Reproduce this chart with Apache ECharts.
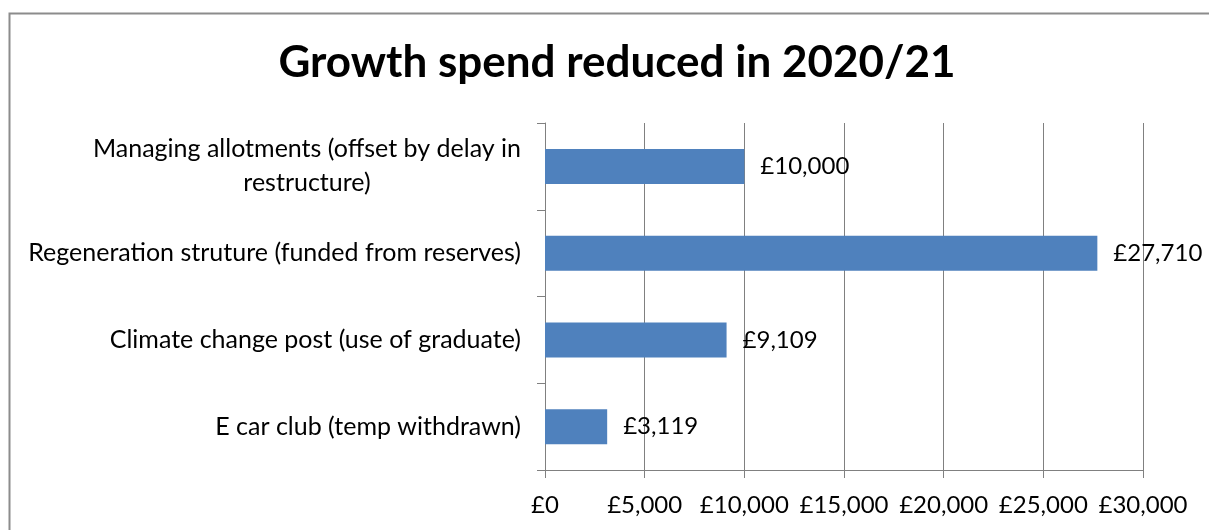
<!DOCTYPE html>
<html>
<head>
<meta charset="utf-8">
<title>Growth spend reduced in 2020/21</title>
<script src="https://cdn.jsdelivr.net/npm/echarts@6/dist/echarts.min.js"></script>
<style>
  html, body { margin: 0; padding: 0; background: #fff; }
  #chart { width: 1209px; height: 530px; }
</style>
</head>
<body>
<div id="chart"></div>
<script>
// Budget lines, listed bottom to top as the category axis draws them
const categories = [
  'E car club (temp withdrawn)',
  'Climate change post (use of graduate)',
  'Regeneration struture (funded from reserves)',
  'Managing allotments (offset by delay in restructure)'
];
const reductions = [3119, 9109, 27710, 10000];
const axisTicks = [0, 5000, 10000, 15000, 20000, 25000, 30000];

const FONT = 'Lato, "DejaVu Sans", sans-serif';
const CAT_SIZE = 25;
const NUM_SIZE = 24;
const GRID_COLOR = '#808080';

// Pound format with thousands separators
const pounds = v => '£' + Math.round(v).toLocaleString('en-GB');

// Word-wrap a category name to a pixel width, measured with the label font
const measureCtx = document.createElement('canvas').getContext('2d');
measureCtx.font = CAT_SIZE + 'px ' + FONT;
function wrapText(text, maxWidth) {
  const words = text.split(' ');
  const lines = [];
  let line = '';
  words.forEach(w => {
    const trial = line ? line + ' ' + w : w;
    if (line && measureCtx.measureText(trial).width > maxWidth) {
      lines.push(line);
      line = w;
    } else {
      line = trial;
    }
  });
  if (line) lines.push(line);
  return lines;
}

const chart = echarts.init(document.getElementById('chart'), null, { renderer: 'canvas' });

chart.setOption({
  backgroundColor: '#ffffff',
  animation: false,
  graphic: [{
    type: 'rect',
    left: 7, top: 11,
    shape: { width: 1400, height: 700 },
    style: { fill: 'none', stroke: '#8c8c8c', lineWidth: 2 },
    silent: true,
    z: -1
  }],
  title: {
    text: 'Growth spend reduced in 2020/21',
    left: 612,
    textAlign: 'center',
    top: 36,
    textStyle: { fontFamily: FONT, fontSize: 44, fontWeight: 'bold', color: '#000' }
  },
  grid: { left: 545, right: 66, top: 123, bottom: 60 },
  xAxis: {
    type: 'value',
    min: axisTicks[0],
    max: axisTicks[axisTicks.length - 1],
    interval: axisTicks[1] - axisTicks[0],
    axisLine: { show: true, lineStyle: { color: GRID_COLOR, width: 1 } },
    axisTick: { show: true, length: 8, lineStyle: { color: GRID_COLOR } },
    splitLine: { show: true, lineStyle: { color: GRID_COLOR, width: 1 } },
    axisLabel: {
      margin: 23,
      fontFamily: FONT, fontSize: NUM_SIZE, color: '#000',
      formatter: v => pounds(v)
    }
  },
  yAxis: {
    type: 'category',
    data: categories,
    axisLine: { show: true, lineStyle: { color: GRID_COLOR, width: 1 } },
    axisTick: { show: true, length: 8, lineStyle: { color: GRID_COLOR } },
    axisLabel: {
      margin: 24,
      formatter: v => wrapText(v, 510).map(l => '{c|' + l + '}').join('\n'),
      rich: {
        c: { align: 'center', fontFamily: FONT, fontSize: CAT_SIZE, lineHeight: 34, color: '#000' }
      }
    }
  },
  series: [{
    type: 'bar',
    data: reductions,
    barWidth: 35,
    itemStyle: { color: '#4f81bd' },
    label: {
      show: true,
      position: 'right',
      distance: 16,
      fontFamily: FONT, fontSize: NUM_SIZE, color: '#000',
      formatter: p => pounds(p.value)
    }
  }]
});
</script>
</body>
</html>
